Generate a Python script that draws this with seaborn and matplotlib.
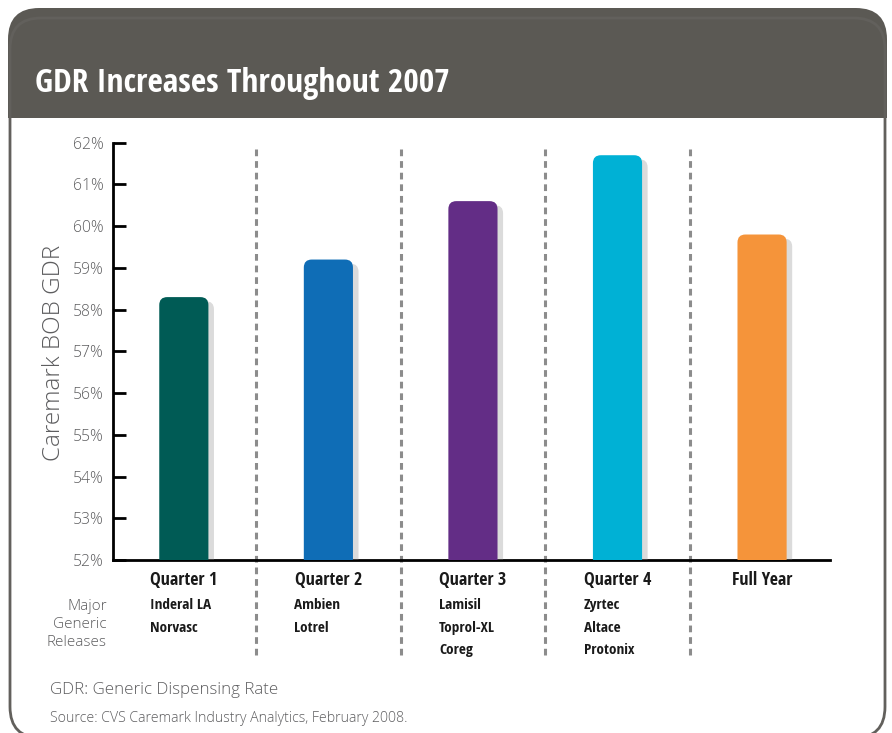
import matplotlib
matplotlib.use("Agg")
import matplotlib.pyplot as plt
import seaborn as sns
import pandas as pd
from matplotlib.patches import FancyBboxPatch, Rectangle
from matplotlib import patheffects
from matplotlib.ticker import FuncFormatter

# chart data
categories = ["Quarter 1", "Quarter 2", "Quarter 3", "Quarter 4", "Full Year"]
gdr = [58.3, 59.2, 60.6, 61.7, 59.8]
bar_colors = ["#005b55", "#0f6db6", "#632d86", "#00b1d5", "#f5943a"]
releases = [["Inderal LA", "Norvasc"],
            ["Ambien", "Lotrel"],
            ["Lamisil", "Toprol-XL", "Coreg"],
            ["Zyrtec", "Altace", "Protonix"],
            []]
row_label = ["Major", "Generic", "Releases"]
y_ticks = list(range(52, 63))

W, H = 892, 733
NARROW = ["Open Sans Condensed", "PT Sans Narrow", "DejaVu Sans"]
LIGHT = ["Open Sans", "DejaVu Sans"]
GREY_TXT = "#5d5d5f"
HEADER = "#5b5954"


def fx(x):
    return x / W


def fy(y):
    return 1 - y / H


sns.set_theme(style="white")
plt.rcParams["font.family"] = LIGHT
plt.rcParams["font.weight"] = "light"

fig = plt.figure(figsize=(W / 100, H / 100), dpi=100)
fig.patch.set_facecolor("white")

# frame: dark rounded header, white body, thin grey outline
fig.patches.append(FancyBboxPatch((fx(8), fy(170)), fx(879), 162 / H,
                                  boxstyle="round,pad=0,rounding_size=0.035",
                                  mutation_aspect=W / H,
                                  transform=fig.transFigure, facecolor=HEADER,
                                  edgecolor="none", zorder=0))
fig.patches.append(Rectangle((fx(8), fy(171)), fx(880), 53 / H,
                             transform=fig.transFigure, facecolor="white",
                             edgecolor="none", zorder=0.1))
fig.patches.append(FancyBboxPatch((fx(10), fy(738)), fx(875), 720 / H,
                                  boxstyle="round,pad=0,rounding_size=0.035",
                                  mutation_aspect=W / H,
                                  transform=fig.transFigure, facecolor="none",
                                  edgecolor="#62605c", linewidth=2, zorder=0.2))
fig.text(fx(35), fy(83), "GDR Increases Throughout 2007", color="white",
         fontsize=24, fontweight="bold", family=NARROW, fontstretch="condensed",
         va="center", ha="left")

ax = fig.add_axes([fx(113), fy(560), fx(830) - fx(113), (560 - 142.7) / H])
ax.set_zorder(2)
ax.set_facecolor("none")

df = pd.DataFrame({"period": categories, "gdr": gdr})
sns.barplot(data=df, x="period", y="gdr", hue="period", palette=bar_colors,
            width=0.34, legend=False, ax=ax, saturation=1)

# rounded tops with a soft shadow
px_per_x = (830 - 113) / 4.96
px_per_y = (560 - 142.7) / 10
for bar in list(ax.patches):
    x0, w = bar.get_x(), bar.get_width()
    h = bar.get_height()
    c = bar.get_facecolor()
    bar.remove()
    rb = FancyBboxPatch((x0, 0), w, h,
                        boxstyle="round,pad=0,rounding_size=0.055",
                        mutation_aspect=px_per_x / px_per_y,
                        facecolor=c, edgecolor="none", zorder=3)
    rb.set_path_effects([patheffects.SimplePatchShadow(offset=(4, -3),
                                                       shadow_rgbFace="#888888",
                                                       alpha=0.3),
                         patheffects.Normal()])
    ax.add_patch(rb)

ax.set_xlim(-0.49, 4.47)
ax.set_ylim(52, 62)
ax.set_yticks(y_ticks)
ax.yaxis.set_major_formatter(FuncFormatter(lambda v, p: f"{v:.0f}%"))
ax.tick_params(axis="y", direction="in", length=9, width=2, color="black",
               labelsize=11.3, labelcolor=GREY_TXT, pad=7, left=True)
ax.tick_params(axis="x", bottom=False, labelbottom=False)
ax.set_xlabel("")
ax.set_ylabel("Caremark BOB GDR", fontsize=17.5, color=GREY_TXT,
              fontweight="light")
ax.yaxis.set_label_coords(-0.066, 0.495)
for side in ["top", "right"]:
    ax.spines[side].set_visible(False)
for side in ["left", "bottom"]:
    ax.spines[side].set_color("black")
    ax.spines[side].set_linewidth(2)

# dashed dividers running down into the release list
ax.vlines([0.5, 1.5, 2.5, 3.5], -0.228, 0.987, transform=ax.get_xaxis_transform(),
          colors="#8c8c8c", linestyles=(0, (2.2, 1.6)), linewidth=2.2,
          clip_on=False, zorder=2)

# category labels and release lists
trans = ax.get_xaxis_transform()
row_y = [-0.108, -0.163, -0.216]
for i, (cat, drugs) in enumerate(zip(categories, releases)):
    ax.text(i, -0.048, cat, transform=trans, ha="center", va="center",
            fontsize=13, fontweight="bold", family=NARROW, fontstretch="condensed",
            color="#1a1a1a")
    for j, d in enumerate(drugs):
        ax.text(i - 0.235, row_y[j], d, transform=trans, ha="left", va="center",
                fontsize=11, fontweight="bold", family=NARROW,
                fontstretch="condensed", color="#1a1a1a")

for yy, word in zip([606, 624, 643], row_label):
    fig.text(fx(107), fy(yy), word, ha="right", va="center",
             fontsize=11, color=GREY_TXT)
fig.text(fx(50), fy(690), "GDR: Generic Dispensing Rate", ha="left",
         va="center", fontsize=12.2, color=GREY_TXT)
fig.text(fx(50), fy(718), "Source: CVS Caremark Industry Analytics, February 2008.",
         ha="left", va="center", fontsize=10.2, color=GREY_TXT)

fig.savefig("out.png", dpi=100)
